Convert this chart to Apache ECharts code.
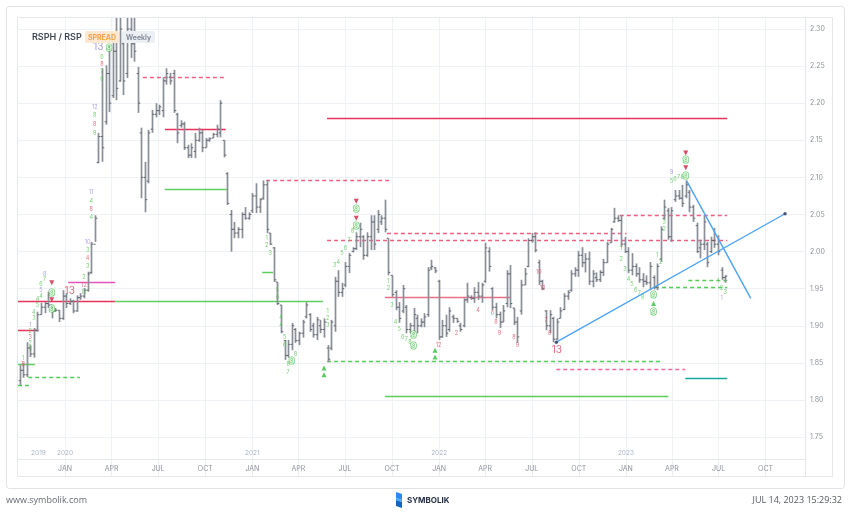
<!DOCTYPE html>
<html><head><meta charset="utf-8">
<script src="https://cdn.jsdelivr.net/npm/echarts@6/dist/echarts.min.js"></script>
<style>html,body{margin:0;padding:0;background:#fff}#c{width:851px;height:512px}</style>
</head><body><div id="c"></div><script>
// ---------- data ----------
const firstWeek = '2019-10-04';   // weekly bars, Friday closes
// [open, high, low, close]
const ohlc = [
[1.826,1.847,1.820,1.840],[1.840,1.850,1.830,1.834],[1.834,1.878,1.831,1.870],[1.870,1.874,1.858,1.862],
[1.862,1.897,1.857,1.894],[1.894,1.919,1.892,1.915],[1.915,1.931,1.915,1.925],[1.925,1.932,1.917,1.930],
[1.930,1.946,1.924,1.928],[1.928,1.928,1.910,1.920],[1.920,1.924,1.919,1.921],[1.921,1.921,1.905,1.910],
[1.910,1.948,1.908,1.940],[1.940,1.944,1.924,1.930],[1.930,1.937,1.928,1.933],[1.933,1.935,1.917,1.920],
[1.920,1.941,1.919,1.938],[1.938,1.944,1.935,1.940],[1.940,1.951,1.937,1.948],[1.948,1.973,1.946,1.970],
[1.972,2.013,1.970,2.010],[2.010,2.049,2.013,2.045],
[2.120,2.160,2.119,2.155],[2.155,2.247,2.121,2.140],[2.175,2.251,2.171,2.240],[2.240,2.278,2.188,2.200],
[2.210,2.282,2.207,2.270],[2.270,2.315,2.204,2.220],[2.230,2.315,2.229,2.300],[2.280,2.288,2.211,2.230],
[2.240,2.315,2.234,2.300],[2.300,2.315,2.261,2.280],[2.280,2.315,2.256,2.270],[2.240,2.249,2.187,2.200],
[2.160,2.167,2.072,2.100],[2.100,2.121,2.053,2.070],[2.095,2.164,2.092,2.160],[2.165,2.191,2.160,2.185],
[2.185,2.200,2.181,2.190],[2.190,2.198,2.184,2.195],[2.190,2.235,2.181,2.230],[2.230,2.247,2.225,2.240],
[2.235,2.241,2.225,2.230],[2.240,2.245,2.187,2.190],[2.185,2.187,2.146,2.160],[2.170,2.177,2.167,2.172],
[2.172,2.175,2.137,2.140],[2.140,2.144,2.126,2.130],[2.130,2.146,2.126,2.140],[2.135,2.160,2.126,2.150],
[2.150,2.167,2.148,2.160],[2.160,2.164,2.134,2.140],[2.140,2.153,2.140,2.150],[2.150,2.154,2.148,2.152],
[2.153,2.160,2.153,2.158],[2.158,2.171,2.154,2.165],[2.160,2.204,2.154,2.200],[2.150,2.150,2.127,2.130],
[2.105,2.107,2.063,2.065],[2.050,2.056,2.000,2.030],[2.030,2.040,2.018,2.025],[2.025,2.033,2.018,2.030],
[2.030,2.053,2.018,2.050],[2.050,2.060,2.043,2.045],[2.045,2.053,2.043,2.050],[2.055,2.079,2.052,2.075],
[2.075,2.092,2.052,2.060],[2.060,2.072,2.052,2.070],[2.072,2.096,2.070,2.090],[2.090,2.096,2.025,2.030],
[2.025,2.025,2.009,2.010],[2.005,2.006,1.959,1.962],[1.959,1.959,1.928,1.930],[1.928,1.928,1.890,1.892],
[1.880,1.881,1.854,1.860],[1.860,1.881,1.857,1.875],[1.875,1.904,1.867,1.900],[1.895,1.897,1.877,1.880],
[1.880,1.892,1.874,1.890],[1.890,1.908,1.884,1.905],[1.912,1.932,1.910,1.928],[1.915,1.917,1.892,1.895],
[1.900,1.904,1.884,1.888],[1.888,1.912,1.881,1.908],[1.900,1.908,1.890,1.895],[1.895,1.910,1.884,1.905],
[1.870,1.874,1.851,1.855],[1.870,1.908,1.867,1.905],[1.900,1.966,1.892,1.960],[1.960,1.975,1.939,1.945],
[1.945,1.958,1.939,1.950],[1.955,1.986,1.952,1.980],[1.980,1.998,1.971,1.995],[2.000,2.006,1.999,2.004],
[2.004,2.026,2.002,2.020],[2.020,2.039,2.006,2.030],[2.020,2.022,1.989,1.995],[1.995,2.026,1.993,2.020],
[2.020,2.049,2.002,2.040],[2.040,2.049,2.002,2.010],[2.030,2.056,2.025,2.050],[2.040,2.049,2.036,2.045],
[2.045,2.070,2.026,2.030],[2.018,2.018,1.968,1.972],[1.968,1.968,1.939,1.942],[1.945,1.948,1.921,1.925],
[1.925,1.932,1.904,1.910],[1.920,1.955,1.917,1.950],[1.925,1.928,1.890,1.895],[1.895,1.904,1.890,1.900],
[1.900,1.924,1.888,1.915],[1.910,1.915,1.890,1.900],
[1.900,1.910,1.898,1.905],[1.905,1.917,1.898,1.912],[1.915,1.979,1.912,1.975],[1.978,1.989,1.975,1.980],
[1.978,1.979,1.971,1.974],[1.960,1.962,1.881,1.885],[1.885,1.908,1.884,1.900],[1.900,1.915,1.885,1.890],
[1.895,1.925,1.892,1.920],[1.912,1.915,1.904,1.910],[1.910,1.910,1.904,1.906],[1.900,1.904,1.892,1.895],
[1.900,1.937,1.898,1.935],[1.935,1.958,1.931,1.940],[1.938,1.941,1.935,1.937],[1.937,1.952,1.931,1.945],
[1.945,1.959,1.935,1.940],[1.940,1.958,1.931,1.955],[1.960,2.012,1.958,2.005],[2.000,2.006,1.973,1.980],
[1.950,1.952,1.921,1.925],[1.925,1.931,1.910,1.915],[1.915,1.919,1.897,1.905],[1.905,1.928,1.905,1.920],
[1.930,1.975,1.925,1.970],[1.970,1.982,1.924,1.930],[1.924,1.924,1.901,1.905],[1.905,1.912,1.877,1.885],
[1.920,1.962,1.915,1.955],[1.955,1.978,1.955,1.970],[1.980,2.018,1.979,2.015],[2.015,2.025,2.012,2.020],
[2.020,2.026,1.999,2.002],[1.985,1.989,1.955,1.960],[1.960,1.962,1.948,1.950],[1.920,1.921,1.894,1.900],
[1.900,1.921,1.890,1.915],[1.910,1.912,1.878,1.882],[1.882,1.910,1.881,1.905],[1.910,1.925,1.910,1.920],
[1.922,1.944,1.921,1.940],[1.940,1.948,1.935,1.945],[1.948,1.975,1.946,1.970],[1.970,1.979,1.966,1.975],
[1.975,2.001,1.966,1.995],[1.995,2.006,1.979,1.985],[1.985,1.998,1.972,1.990],[1.990,2.000,1.955,1.960],
[1.960,1.975,1.952,1.970],[1.965,1.972,1.959,1.962],[1.962,1.975,1.959,1.972],[1.972,1.990,1.967,1.985],
[1.985,2.013,1.985,2.010],[2.012,2.032,2.012,2.030],[2.040,2.059,2.039,2.045],[2.045,2.049,2.040,2.042],
[2.042,2.049,2.006,2.010],[2.010,2.020,1.998,2.000],[2.000,2.006,1.971,1.975],[1.975,1.998,1.968,1.980],
[1.980,1.984,1.966,1.970],[1.970,1.979,1.958,1.962],[1.962,1.971,1.952,1.960],[1.960,1.968,1.955,1.958],
[1.958,1.986,1.948,1.980],[1.965,1.968,1.949,1.952],[1.952,1.984,1.948,1.980],[1.990,2.034,1.986,2.030],
[2.045,2.070,2.043,2.060],[2.055,2.059,2.016,2.020],[2.020,2.060,2.013,2.055],[2.070,2.083,2.067,2.075],
[2.075,2.083,2.070,2.072],[2.072,2.090,2.060,2.065],[2.075,2.096,2.072,2.090],[2.080,2.083,2.053,2.060],
[2.060,2.063,2.040,2.045],[2.035,2.039,1.998,2.000],[2.005,2.016,1.991,2.010],[2.010,2.049,2.002,2.040],
[2.010,2.013,1.979,1.985],[2.000,2.020,1.998,2.015],[2.015,2.032,2.005,2.010],[2.010,2.022,1.995,2.000],
[1.975,1.979,1.962,1.965],[1.965,1.968,1.958,1.967]
];

const axisStart = '2019-10-01';
const axisEnd = '2023-12-17';
const monthTicks = ['2020-01-01','2020-04-01','2020-07-01','2020-10-01','2021-01-01','2021-04-01','2021-07-01','2021-10-01',
  '2022-01-01','2022-04-01','2022-07-01','2022-10-01','2023-01-01','2023-04-01','2023-07-01','2023-10-01'];
const monthLabels = ['JAN','APR','JUL','OCT','JAN','APR','JUL','OCT','JAN','APR','JUL','OCT','JAN','APR','JUL','OCT'];
const yearTicks = ['2019-11-10','2020-01-01','2021-01-01','2022-01-01','2023-01-01'];
const yearLabels = ['2019','2020','2021','2022','2023'];
const priceTicks = [1.75,1.80,1.85,1.90,1.95,2.00,2.05,2.10,2.15,2.20,2.25,2.30];

// TD levels: [start, end, value, kind]
const levels = [
  ['2019-10-01','2019-10-25',1.820,'gd'],
  ['2019-10-21','2020-01-30',1.831,'gd'],
  ['2019-10-01','2019-11-03',1.849,'gs'],
  ['2019-10-01','2019-11-10',1.894,'rs'],
  ['2019-10-01','2020-04-08',1.933,'rs'],
  ['2020-04-08','2021-05-19',1.933,'gs'],
  ['2020-01-07','2020-04-08',1.959,'ps'],
  ['2020-06-01','2020-11-12',2.235,'rd'],
  ['2020-07-14','2020-11-10',2.165,'rs'],
  ['2020-07-14','2020-11-12',2.084,'gs'],
  ['2021-01-28','2021-09-25',2.096,'rd'],
  ['2021-01-20','2021-02-11',1.973,'gs'],
  ['2021-05-27','2023-07-18',2.015,'rd'],
  ['2021-09-21','2023-01-02',2.025,'rd'],
  ['2021-09-17','2022-05-20',1.939,'rl'],
  ['2021-05-27','2023-03-09',1.852,'gd'],
  ['2022-12-20','2023-07-18',2.049,'rd'],
  ['2021-05-27','2023-07-18',2.180,'rs'],
  ['2022-08-18','2023-04-27',1.842,'pd'],
  ['2021-09-17','2023-03-25',1.805,'gs'],
  ['2023-04-27','2023-07-18',1.830,'ts'],
  ['2023-02-27','2023-07-18',1.952,'gd'],
  ['2023-05-03','2023-07-18',1.962,'gd']
];
// trend lines: [[date, value],[date, value]]
const trends = [
  [['2022-08-18',1.878],['2023-11-08',2.051]],
  [['2023-04-30',2.095],['2023-09-02',1.937]]
];
// right-side price tags: [value, text, kind]
const tags = [[2.18,'2.18','r'],[2.05,'2.05','r'],[2.01,'2.01','r'],[1.962,'1.96','g'],[1.968,'1.97','k'],[1.952,'1.95','g'],[1.830,'1.83','t']];
// TD marks: [barIndex, value, text, colour]
const bigMarks = [
  [22,2.276,'13','p'],[25,2.274,'9','g'],[14,1.947,'13','r'],[9,1.944,'9','g'],[9,1.922,'9','g'],
  [94,2.057,'9','g'],[94,2.034,'9','g'],[76,1.853,'9','g'],[110,1.887,'9','g'],[110,1.873,'9','g'],
  [150,1.867,'13','r'],[186,2.123,'9','g'],[186,2.102,'9','g'],[177,1.941,'9','g'],[177,1.918,'9','g']
];
const triangles = [
  [9,1.958,'d'],[9,1.935,'d'],[94,2.068,'d'],[94,2.045,'d'],[85,1.843,'u'],[85,1.834,'u'],
  [116,1.867,'u'],[116,1.858,'u'],[186,2.133,'d'],[186,2.113,'d'],[177,1.930,'u']
];
const smallMarks = [
  [21,2.195,'12','p'],[21,2.183,'8','g'],[21,2.172,'8','r'],[21,2.160,'9','g'],
  [20,2.080,'11','p'],[20,2.068,'4','g'],[20,2.057,'8','r'],[20,2.046,'4','g'],
  [19,2.013,'10','p'],[19,2.002,'3','g'],[19,1.991,'4','r'],[19,1.980,'3','g'],
  [18,1.965,'2','g'],[18,1.955,'12','r'],[18,1.945,'12','g'],
  [23,2.262,'6','g'],[23,2.252,'8','r'],[23,2.243,'7','g'],[23,2.232,'6','g'],
  [1,1.856,'1','g'],[1,1.848,'8','r'],
  [3,1.900,'1','p'],[3,1.892,'2','g'],[3,1.884,'3','r'],[3,1.876,'2','g'],[3,1.868,'3','g'],
  [4,1.910,'3','g'],[4,1.918,'4','g'],[5,1.928,'5','g'],[5,1.936,'4','g'],
  [6,1.940,'4','g'],[6,1.948,'5','p'],[6,1.956,'6','g'],[7,1.962,'7','g'],[7,1.970,'8','p'],
  [69,2.018,'1','g'],[69,2.008,'2','g'],[70,1.998,'3','g'],[72,1.948,'5','g'],[72,1.938,'6','g'],
  [73,1.912,'4','g'],[73,1.900,'4','g'],[74,1.884,'5','g'],[74,1.874,'6','g'],[75,1.848,'8','g'],[75,1.837,'7','g'],
  [77,1.862,'8','g'],[86,1.920,'1','g'],[86,1.910,'2','g'],[86,1.900,'3','g'],
  [88,1.982,'3','g'],[89,1.985,'4','g'],[90,1.997,'5','g'],[91,2.005,'6','g'],[92,2.015,'7','g'],[93,2.027,'8','g'],
  [103,1.960,'1','g'],[103,1.950,'2','g'],[104,1.928,'3','g'],[105,1.905,'4','g'],[106,1.895,'5','g'],
  [107,1.885,'6','g'],[108,1.882,'7','g'],[109,1.878,'8','g'],
  [117,1.873,'12','r'],[122,1.890,'2','r'],[128,1.921,'4','r'],[132,1.917,'6','r'],[133,1.904,'8','r'],
  [134,1.890,'9','r'],[138,1.885,'8','r'],[139,1.873,'9','r'],[145,1.972,'10','r'],[146,1.950,'13','r'],
  [147,1.908,'7','r'],[148,1.890,'8','r'],
  [168,2.004,'1','g'],[168,1.990,'2','g'],[169,1.976,'3','g'],[170,1.963,'4','g'],[171,1.956,'5','g'],
  [172,1.948,'6','g'],[173,1.944,'7','g'],[174,1.938,'8','g'],[178,1.995,'1','g'],[179,1.985,'2','g'],
  [180,2.040,'3','g'],[180,2.030,'2','g'],[182,2.095,'5','g'],[183,2.098,'6','g'],[184,2.100,'7','g'],
  [185,2.100,'8','g'],[182,2.107,'9','p'],[195,1.960,'1','g'],[196,1.950,'2','g'],[197,1.945,'3','g'],[196,1.937,'1','p']
];

// ---------- build ----------
const DAY = 86400000;
const T = d => Date.parse(d);
const t0 = T(firstWeek);
const barTime = i => t0 + i * 7 * DAY;
const bars = ohlc.map((r, i) => [barTime(i), r[0], r[1], r[2], r[3]]);
const monthTickT = monthTicks.map(T);
const monthMap = {}; monthTickT.forEach((t, i) => monthMap[t] = monthLabels[i]);
const yearTickT = yearTicks.map(T);
const yearMap = {}; yearTickT.forEach((t, i) => yearMap[t] = yearLabels[i]);

const C = { g:'#55c455', r:'#e0506a', p:'#9a8ce0' };
const levelStyle = {
  gs:{color:'#5ccf5c', dash:null},
  gd:{color:'#55cc55', dash:[4,3]},
  rs:{color:'#e8325a', dash:null},
  rl:{color:'#ec6f86', dash:null},
  rd:{color:'#ef5f80', dash:[4,3]},
  ps:{color:'#e455b8', dash:null},
  pd:{color:'#f06ca4', dash:[4,3]},
  ts:{color:'#16a89c', dash:null}
};
const tagColor = { r:'#d61a47', g:'#3dc23d', k:'#4d5160', t:'#14958b' };

const chart = echarts.init(document.getElementById('c'), null, {renderer:'canvas'});
const FONT = 'Inter, "Open Sans", sans-serif';

chart.setOption({
  animation:false,
  backgroundColor:'#ffffff',
  grid:{left:18, right:46, top:18, bottom:53, containLabel:false},
  xAxis:[{
    type:'value', min:T(axisStart), max:T(axisEnd),
    axisLine:{show:true, lineStyle:{color:'#e3e7ec'}},
    axisTick:{show:true, length:18, customValues:monthTickT, lineStyle:{color:'#e9edf2'}},
    axisLabel:{customValues:monthTickT, formatter:v => monthMap[v] || '', color:'#8d939c', fontSize:7, margin:6, fontFamily:FONT},
    splitLine:{show:true, lineStyle:{color:'#eef1f5'}}
  },{
    type:'value', min:T(axisStart), max:T(axisEnd), position:'bottom',
    axisLine:{show:false}, axisTick:{show:false, customValues:yearTickT}, splitLine:{show:false},
    axisLabel:{inside:true, customValues:yearTickT, formatter:v => yearMap[v] || '', color:'#a8b3c6', fontSize:6.5, margin:2, fontFamily:FONT}
  }],
  yAxis:{
    type:'value', position:'right', min:1.72049, max:2.31482,
    axisLine:{show:false},
    axisTick:{show:false, customValues:priceTicks},
    axisLabel:{customValues:priceTicks, formatter:v => v.toFixed(2), color:'#8d939c', fontSize:7, margin:5, fontFamily:FONT},
    splitLine:{show:true, lineStyle:{color:'#eef1f5'}}
  },
  series:[
    {
      // TD support / resistance levels drawn through the axis scales
      type:'custom', z:3, clip:true, silent:true,
      data: levels.map(l => [T(l[0]), T(l[1]), l[2]]),
      encode:{x:[0,1], y:2},
      renderItem(params, api){
        const k = levels[params.dataIndex][3];
        const s = levelStyle[k];
        const a = api.coord([api.value(0), api.value(2)]);
        const b = api.coord([api.value(1), api.value(2)]);
        const y = Math.round(a[1]) + 0.5;
        return {type:'line', shape:{x1:a[0], y1:y, x2:b[0], y2:y},
          style:{stroke:s.color, lineWidth:1.5, lineDash:s.dash}};
      }
    },
    {
      type:'custom', name:'RSPH/RSP', clip:true, z:4,
      data: bars,
      encode:{x:0, y:[1,2,3,4]},
      renderItem(params, api){
        const t = api.value(0);
        const pH = api.coord([t, api.value(2)]);
        const yL = api.coord([t, api.value(3)])[1];
        const yO = api.coord([t, api.value(1)])[1];
        const yC = api.coord([t, api.value(4)])[1];
        const x = Math.round(pH[0]) + 0.5;
        return {type:'group', children:[
          {type:'line', shape:{x1:x, y1:pH[1], x2:x, y2:yL}, style:{stroke:'#8a8e97', lineWidth:1.7}},
          {type:'line', shape:{x1:x-1.8, y1:yO, x2:x, y2:yO}, style:{stroke:'#5e626c', lineWidth:1}},
          {type:'line', shape:{x1:x, y1:yC, x2:x+1.8, y2:yC}, style:{stroke:'#5e626c', lineWidth:1}}
        ]};
      }
    },
    {
      type:'custom', z:5, clip:true, silent:true,
      data: trends.map(tr => [T(tr[0][0]), tr[0][1], T(tr[1][0]), tr[1][1]]),
      encode:{x:[0,2], y:[1,3]},
      renderItem(params, api){
        const a = api.coord([api.value(0), api.value(1)]);
        const b = api.coord([api.value(2), api.value(3)]);
        return {type:'line', shape:{x1:a[0], y1:a[1], x2:b[0], y2:b[1]}, style:{stroke:'#4ea3f5', lineWidth:1.4}};
      }
    },
    {
      type:'scatter', z:6, symbolSize:3.5, itemStyle:{color:'#263553'}, silent:true, clip:false,
      data: trends[0].map(p => [T(p[0]), p[1]])
    },
    {
      type:'line', z:9, silent:true, clip:false, data:[], showSymbol:false,
      markLine:{
        silent:true, symbol:'none', animation:false, precision:2,
        lineStyle:{opacity:0, width:0},
        data: tags.map(tg => ({
          yAxis: tg[0],
          label:{show:true, position:'end', distance:0, formatter: tg[1], color:'#fff',
            backgroundColor: tagColor[tg[2]], fontSize:7, fontFamily:FONT,
            padding:[1,4,1,5], width:19}
        }))
      }
    },
    {
      type:'scatter', z:7, silent:true, symbolSize:0,
      data: smallMarks.map(m => ({value:[barTime(m[0]), m[1]],
        label:{show:true, position:'inside', formatter:m[2], color:C[m[3]], fontSize:5.5, fontFamily:FONT}}))
    },
    {
      type:'scatter', z:8, silent:true, symbolSize:0,
      data: bigMarks.map(m => ({value:[barTime(m[0]), m[1]],
        label: m[2] === '9'
          ? {show:true, position:'inside', formatter:'9', color:'#ffffff', textBorderColor:'#3fbf45', textBorderWidth:1.2, fontSize:9.5, fontWeight:'bold', fontFamily:FONT}
          : {show:true, position:'inside', formatter:m[2], color: m[3]==='p' ? '#9385e2' : '#e0445f', fontSize:10, fontFamily:FONT}}))
    },
    {
      type:'scatter', z:8, silent:true, symbol:'triangle', symbolSize:[5,5],
      data: triangles.map(tr => ({value:[barTime(tr[0]), tr[1]], symbolRotate: tr[2]==='d' ? 180 : 0,
        itemStyle:{color: tr[2]==='d' ? '#d0203f' : '#2fbf3b'}}))
    }
  ],
  graphic:[
    {type:'rect', z:-10, shape:{x:6.5, y:6.5, width:838, height:482, r:3}, style:{fill:'#ffffff', stroke:'#dfe3e8', lineWidth:1}},
    {type:'rect', z:100, shape:{x:17.5, y:17.5, width:815, height:459}, style:{fill:'none', stroke:'#e4e8ed', lineWidth:1}},
    {type:'line', z:100, shape:{x1:805.5, y1:18, x2:805.5, y2:477}, style:{stroke:'#e4e8ed', lineWidth:1}},
    {type:'text', z:100, x:32, y:37.5, style:{text:'RSPH / RSP', font:'600 9px '+FONT, fill:'#3f4653', textVerticalAlign:'middle'}},
    {type:'rect', z:100, shape:{x:85, y:31, width:34, height:12, r:2}, style:{fill:'#fde8d2'}},
    {type:'text', z:101, x:102, y:37.5, style:{text:'SPREAD', font:'bold 7px '+FONT, fill:'#f7a24b', textAlign:'center', textVerticalAlign:'middle'}},
    {type:'rect', z:100, shape:{x:122, y:31, width:33, height:12, r:2}, style:{fill:'#eceff3'}},
    {type:'text', z:101, x:138.5, y:37.5, style:{text:'Weekly', font:'600 7px '+FONT, fill:'#7b8392', textAlign:'center', textVerticalAlign:'middle'}},
    {type:'text', x:6, y:500, style:{text:'www.symbolik.com', font:'9px "Open Sans", sans-serif', fill:'#666b73', textVerticalAlign:'middle'}},
    {type:'polygon', shape:{points:[[396,492],[402,494],[402,500],[396,498]]}, style:{fill:'#2a8af0'}},
    {type:'polygon', shape:{points:[[396,500],[402,502],[402,508],[396,506]]}, style:{fill:'#1565c0'}},
    {type:'polygon', shape:{points:[[396,498],[402,500],[402,502],[396,500]]}, style:{fill:'#42a5f5'}},
    {type:'text', x:407, y:500.5, style:{text:'SYMBOLIK', font:'bold 8px '+FONT, fill:'#1f2a44', textVerticalAlign:'middle'}},
    {type:'text', x:842, y:500, style:{text:'JUL 14, 2023 15:29:32', font:'9px "Open Sans", sans-serif', fill:'#555a61', textAlign:'right', textVerticalAlign:'middle'}}
  ]
});
</script></body></html>
